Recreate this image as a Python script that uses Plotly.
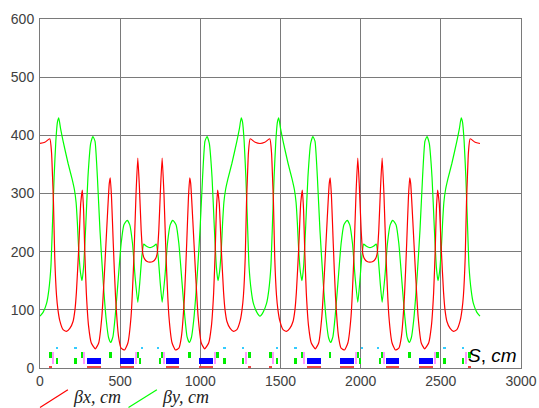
import plotly.graph_objects as go

# ---- beta_x (red), four quarters of the ring ----
bx_s_q1 = [0,30,61,72,78,84,92,103,112,123,144,165,186,206,218,227,241,254,264,272,279,289,303,320,345,366,386,403,419,432,438,446,457,471,490,506,527,548,568,585,599,610,620,631,641,651,668,686]
bx_v_q1 = [386,388,394,370,330,285,190,125,100,82,66,63,68,80,100,130,203,283,306,271,203,129,72,43,33,43,89,169,254,317,327,294,214,123,54,34,31,43,89,186,300,361,311,237,197,188,183,182]
bx_s_q2 = [704,721,731,741,752,762,773,787,804,824,845,866,882,901,915,926,934,940,953,969,986,1006,1027,1052,1069,1083,1093,1100,1108,1118,1131,1145,1154,1166,1186,1207,1228,1249,1260,1269,1280,1288,1294,1300,1311,1342,1372]
bx_v_q2 = [183,188,197,237,311,361,300,186,89,43,31,34,54,123,214,294,327,317,254,169,89,43,33,43,72,129,203,271,306,283,203,130,100,80,68,63,66,82,100,125,190,285,330,370,394,388,386]
bx_s_q3 = [1402,1433,1444,1450,1456,1464,1475,1484,1495,1516,1537,1558,1578,1590,1599,1613,1626,1636,1644,1651,1661,1675,1692,1717,1738,1758,1775,1791,1804,1810,1818,1829,1843,1862,1878,1899,1920,1940,1957,1971,1982,1992,2003,2013,2023,2040,2058]
bx_v_q3 = [388,394,370,330,285,190,125,100,82,66,63,68,80,100,130,203,283,306,271,203,129,72,43,33,43,89,169,254,317,327,294,214,123,54,34,31,43,89,186,300,361,311,237,197,188,183,182]
bx_s_q4 = [2076,2093,2103,2113,2124,2134,2145,2159,2176,2196,2217,2238,2254,2273,2287,2298,2306,2312,2325,2341,2358,2378,2399,2424,2441,2455,2465,2472,2480,2490,2503,2517,2526,2538,2558,2579,2600,2621,2632,2641,2652,2660,2666,2672,2683,2714,2744]
bx_v_q4 = [183,188,197,237,311,361,300,186,89,43,31,34,54,123,214,294,327,317,254,169,89,43,33,43,72,129,203,271,306,283,203,130,100,80,68,63,66,82,100,125,190,285,330,370,394,388,386]

# ---- beta_y (green) ----
by_s_q1 = [0,20,41,55,68,78,88,99,109,117,128,144,175,200,215,225,233,241,252,262,272,285,299,316,330,343,358,374,392,413,428,441,455,469,486,506,523,544,560,577,593,610,622,635,647,660,673,686]
by_v_q1 = [89,96,111,134,174,249,328,391,423,430,412,390,352,325,306,285,250,205,165,150,174,243,328,386,398,390,328,237,157,83,52,44,54,89,146,214,246,254,246,214,157,113,146,191,213,210,208,207]
by_s_q2 = [699,712,725,737,750,762,779,795,812,828,849,866,886,903,917,931,944,959,980,998,1014,1029,1042,1056,1073,1087,1100,1110,1120,1131,1139,1147,1157,1172,1197,1228,1244,1255,1263,1273,1284,1294,1304,1317,1331,1352,1372]
by_v_q2 = [208,210,213,191,146,113,157,214,246,254,246,214,146,89,54,44,52,83,157,237,328,390,398,386,328,243,174,150,165,205,250,285,306,325,352,390,412,430,423,391,328,249,174,134,111,96,89]
by_s_q3 = [1392,1413,1427,1440,1450,1460,1471,1481,1489,1500,1516,1547,1572,1587,1597,1605,1613,1624,1634,1644,1657,1671,1688,1702,1715,1730,1746,1764,1785,1800,1813,1827,1841,1858,1878,1895,1916,1932,1949,1965,1982,1994,2007,2019,2032,2045,2058]
by_v_q3 = [96,111,134,174,249,328,391,423,430,412,390,352,325,306,285,250,205,165,150,174,243,328,386,398,390,328,237,157,83,52,44,54,89,146,214,246,254,246,214,157,113,146,191,213,210,208,207]
by_s_q4 = [2071,2084,2097,2109,2122,2134,2151,2167,2184,2200,2221,2238,2258,2275,2289,2303,2316,2331,2352,2370,2386,2401,2414,2428,2445,2459,2472,2482,2492,2503,2511,2519,2529,2544,2569,2600,2616,2627,2635,2645,2656,2666,2676,2689,2703,2724,2744]
by_v_q4 = [208,210,213,191,146,113,157,214,246,254,246,214,146,89,54,44,52,83,157,237,328,390,398,386,328,243,174,150,165,205,250,285,306,325,352,390,412,430,423,391,328,249,174,134,111,96,89]

# ---- lattice elements (start, end in cm) ----
fquad_start = [59,256,430,602,754,926,1100,1296,1431,1628,1802,1974,2126,2298,2472,2668]
fquad_end   = [76,272,446,618,770,942,1116,1313,1448,1644,1818,1990,2142,2314,2488,2685]
dquad_start = [97,214,618,740,1143,1259,1469,1586,1990,2112,2515,2631]
dquad_end   = [113,229,632,754,1158,1275,1485,1601,2004,2126,2530,2647]
dipole_start = [295,502,786,992,1667,1874,2158,2364]
dipole_end   = [380,586,870,1077,1752,1958,2242,2449]
cyan_start = [97,214,630,728,1143,1259,1469,1586,2002,2100,2515,2631]
cyan_end   = [113,229,644,742,1158,1275,1485,1601,2016,2114,2530,2647]
pink_pos = [84,278,598,774,1094,1288,1456,1650,1970,2146,2466,2660]
redbar_start = [59,295,502,786,992,1296,1431,1667,1874,2158,2364,2668]
redbar_end   = [76,380,586,870,1077,1313,1448,1752,1958,2242,2449,2685]

x_ticks = [0,500,1000,1500,2000,2500,3000]
y_ticks = [0,100,200,300,400,500,600]

bx_s = bx_s_q1 + bx_s_q2 + bx_s_q3 + bx_s_q4
bx_v = bx_v_q1 + bx_v_q2 + bx_v_q3 + bx_v_q4
by_s = by_s_q1 + by_s_q2 + by_s_q3 + by_s_q4
by_v = by_v_q1 + by_v_q2 + by_v_q3 + by_v_q4

fig = go.Figure()

def add_blocks(starts, ends, lo, hi, color):
    fig.add_trace(go.Bar(
        x=[(a + b) / 2 for a, b in zip(starts, ends)],
        y=[hi - lo] * len(starts),
        base=[lo] * len(starts),
        width=[b - a for a, b in zip(starts, ends)],
        marker=dict(color=color, line=dict(width=0)),
        showlegend=False, hoverinfo="skip"))

add_blocks(redbar_start, redbar_end, 0.8, 4.3, "#ee4444")
add_blocks(fquad_start, fquad_end, 17.5, 27.7, "#00ee00")
add_blocks(dquad_start, dquad_end, 7.7, 17.5, "#00ee00")
add_blocks(dipole_start, dipole_end, 7.7, 17.5, "#0000ff")
add_blocks(cyan_start, cyan_end, 33.0, 36.3, "#33ccff")
add_blocks([p - 4 for p in pink_pos], [p + 4 for p in pink_pos], 7.7, 27.7, "#ff99ff")

fig.add_trace(go.Scatter(x=by_s, y=by_v, mode="lines",
                         line=dict(color="#00ff00", width=1.2, shape="spline", smoothing=0.5),
                         showlegend=False, hoverinfo="skip"))
fig.add_trace(go.Scatter(x=bx_s, y=bx_v, mode="lines",
                         line=dict(color="#ff0000", width=1.2, shape="spline", smoothing=0.5),
                         showlegend=False, hoverinfo="skip"))

axis_common = dict(showgrid=True, gridcolor="#7a7a7a", gridwidth=1,
                   showline=True, linecolor="#7a7a7a", linewidth=1, mirror=True,
                   zeroline=False, ticks="", automargin=False,
                   tickfont=dict(family="Liberation Sans, Arial", size=14, color="#404040"))

fig.update_xaxes(range=[0, 3000], tickvals=x_ticks,
                 ticktext=[str(v) for v in x_ticks], **axis_common)
fig.update_yaxes(range=[0, 600], tickvals=y_ticks,
                 ticktext=[str(v) for v in y_ticks], ticklabelstandoff=2, **axis_common)

shapes = [
    dict(type="line", xref="paper", yref="paper", x0=0.0, y0=-0.113, x1=0.058, y1=-0.062,
         line=dict(color="#ff0000", width=1.2)),
    dict(type="line", xref="paper", yref="paper", x0=0.184, y0=-0.113, x1=0.243, y1=-0.062,
         line=dict(color="#00ff00", width=1.2)),
]
annotations = [
    dict(text="<i>βx, cm</i>", xref="paper", yref="paper", x=0.064, y=-0.082,
         xanchor="left", yanchor="middle", showarrow=False,
         font=dict(family="Liberation Serif, Times New Roman", size=18, color="#222222")),
    dict(text="<i>βy, cm</i>", xref="paper", yref="paper", x=0.249, y=-0.082,
         xanchor="left", yanchor="middle", showarrow=False,
         font=dict(family="Liberation Serif, Times New Roman", size=18, color="#222222")),
    dict(text="<i>S</i>, <i>cm</i>", xref="paper", yref="paper", x=0.995, y=0.0,
         xanchor="right", yanchor="bottom", showarrow=False,
         font=dict(family="Liberation Sans, Arial", size=19, color="#000000")),
]

fig.update_layout(width=539, height=408,
                  margin=dict(l=40, r=18, t=19, b=40),
                  paper_bgcolor="white", plot_bgcolor="white",
                  barmode="overlay", bargap=0,
                  shapes=shapes, annotations=annotations,
                  showlegend=False)

fig.write_html("out.html", config={"displayModeBar": False})

# remove the browser's default page margin so the figure sits at (0, 0)
with open("out.html", encoding="utf-8") as f:
    html = f.read()
html = html.replace("<head>", "<head><style>html,body{margin:0;padding:0;overflow:hidden;}</style>", 1)
with open("out.html", "w", encoding="utf-8") as f:
    f.write(html)
